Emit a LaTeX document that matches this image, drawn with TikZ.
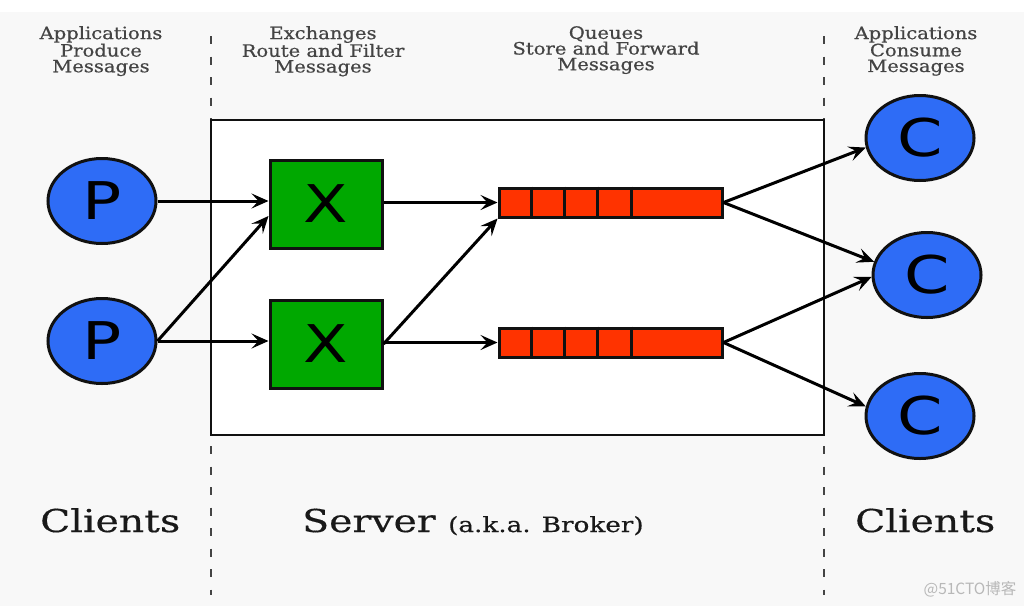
\documentclass[tikz,border=0pt]{standalone}
\usepackage{fontspec}
\usetikzlibrary{shapes.geometric,arrows.meta,calc}
\newfontfamily\hdrfont[FakeStretch=1.15,FakeBold=0.6]{DejaVu Serif}
\newfontfamily\bigfont[FakeStretch=1.25,FakeBold=0.4]{DejaVu Serif}
\newfontfamily\letterfont[FakeStretch=1.25]{DejaVu Sans}
\newfontfamily\cjkfont{Noto Sans CJK SC}
\definecolor{bg}{HTML}{F8F8F8}
\definecolor{pblue}{HTML}{2E6CF6}
\definecolor{xgreen}{HTML}{00A800}
\definecolor{qred}{HTML}{FF3300}
\definecolor{hdrgray}{HTML}{444444}
\definecolor{edge}{HTML}{111111}
\tikzset{
  client/.style={ellipse, draw=edge, line width=3pt, fill=pblue, minimum width=108pt, minimum height=85pt, inner sep=0pt, font=\letterfont\fontsize{52}{52}\selectfont},
  exch/.style={rectangle, draw=edge, line width=3pt, fill=xgreen, minimum width=112pt, minimum height=88pt, inner sep=0pt, font=\letterfont\fontsize{52}{52}\selectfont},
  queuebar/.style={rectangle, draw=edge, line width=3pt, fill=qred, minimum width=223pt, minimum height=29pt, inner sep=0pt},
  cell/.style={draw=edge, line width=2.8pt},
  arr/.style={-{Stealth[length=17pt,width=15pt,inset=7pt]}, line width=3pt, draw=black},
  divider/.style={draw=hdrgray, line width=2pt, dash pattern=on 8pt off 12.5pt},
  hdr/.style={anchor=north, align=center, inner sep=0pt, text=hdrgray, font=\hdrfont\fontsize{17}{15.7}\selectfont},
  bottom/.style={anchor=base west, inner sep=0pt, text=black!90, font=\bigfont\fontsize{31.5}{34}\selectfont}
}
\begin{document}
\begin{tikzpicture}[x=1pt,y=-1pt]
\useasboundingbox (0,0) rectangle (1024,606);
\fill[white] (0,0) rectangle (1024,606);
\fill[bg] (0,12) rectangle (1024,606);
% dividers
\draw[divider] (211,36) -- (211,595);
\draw[divider] (824,36) -- (824,595);
% server box
\draw[draw=edge, line width=2.8pt, fill=white] (211,120) rectangle (824,435);
% headers
\node[hdr] (h1) at (101,26) {Applications\\Produce\\Messages};
\node[hdr] (h2) at (323,26) {Exchanges\\Route and Filter\\Messages};
\node[hdr] (h3) at (606,26) {Queues\\Store and Forward\\Messages};
\node[hdr] (h4) at (916,26) {Applications\\Consume\\Messages};
% producers
\node[client] (p1) at (102,201) {P};
\node[client] (p2) at (102,341) {P};
% exchanges
\node[exch] (x1) at (326,204) {X};
\node[exch] (x2) at (326,344) {X};
% queues
\node[queuebar] (q1) at (610.5,202.5) {};
\node[queuebar] (q2) at (610.5,342.5) {};
\foreach \q in {q1,q2}{
  \foreach \dx in {34,67,100,134}{
    \draw[cell] ($(\q.north west)+(\dx,0)$) -- ($(\q.south west)+(\dx,0)$);
  }
}
% consumers
\node[client] (c1) at (920,138) {C};
\node[client] (c2) at (927,275) {C};
\node[client] (c3) at (920,416) {C};
% connectors
\draw[arr] (p1.east) -- (p1.east -| x1.west);
\draw[arr] (p2.east) -- ($(x1.west)+(0,12)$);
\draw[arr] (p2.east) -- (p2.east -| x2.west);
\draw[arr] (x1.east |- q1.west) -- (q1.west);
\draw[arr] (x2.east) -- (q1.south west);
\draw[arr] (x2.east |- q2.west) -- (q2.west);
\draw[arr] (q1.east) -- (c1.190);
\draw[arr] (q1.east) -- (c2.166);
\draw[arr] (q2.east) -- (c2.182);
\draw[arr] (q2.east) -- (c3.170);
% bottom labels
\node[bottom] (cl1) at (40,532) {Clients};
\node[bottom] (srv) at (302,532) {Server {\fontsize{21}{23}\selectfont(a.k.a. Broker)}};
\node[bottom] (cl2) at (855,532) {Clients};
% watermark
\node[inner sep=0pt, text=black!28, font=\cjkfont\fontsize{15.5}{16}\selectfont] (wm) at (970,589) {@51CTO博客};
\end{tikzpicture}
\end{document}
